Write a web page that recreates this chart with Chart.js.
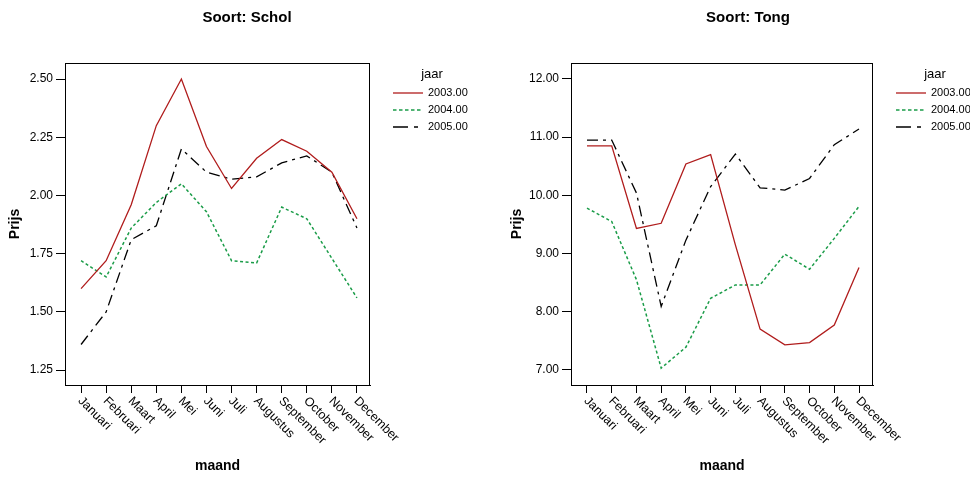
<!DOCTYPE html>
<html><head><meta charset="utf-8">
<script src="https://cdn.jsdelivr.net/npm/chart.js@4"></script>
<style>
html,body{margin:0;padding:0;background:#fff;width:970px;height:479px;overflow:hidden;}
.box{position:absolute;top:0;height:479px;}
</style></head><body>
<div class="box" style="left:0;width:485px"><canvas id="c1"></canvas></div>
<div class="box" style="left:485px;width:485px"><canvas id="c2"></canvas></div>
<script>
const months = ["Januari","Februari","Maart","April","Mei","Juni","Juli","Augustus","September","October","November","December"];
const years = ["2003.00","2004.00","2005.00"];
const titles = ["Soort: Schol","Soort: Tong"];

const schol2003 = [1.60,1.72,1.96,2.30,2.50,2.21,2.03,2.16,2.24,2.19,2.10,1.90];
const schol2004 = [1.72,1.65,1.86,1.97,2.05,1.93,1.72,1.71,1.95,1.90,1.73,1.56];
const schol2005 = [1.36,1.50,1.81,1.87,2.20,2.10,2.07,2.08,2.14,2.17,2.10,1.86];

const tong2003 = [10.85,10.85,9.43,9.52,10.54,10.70,9.15,7.70,7.43,7.47,7.77,8.76];
const tong2004 = [9.78,9.55,8.55,7.03,7.39,8.23,8.46,8.46,8.99,8.73,9.26,9.81];
const tong2005 = [10.95,10.95,10.04,8.09,9.23,10.15,10.71,10.13,10.09,10.29,10.87,11.14];

const scholTicks = [1.25,1.50,1.75,2.00,2.25,2.50];
const tongTicks = [7,8,9,10,11,12];

const colors = ["#b01c1c","#1a9c48","#000000"];
const dashes = [[],[3,2.5],[11,5,3,5]];
const FONT = "'Liberation Sans', Arial, sans-serif";

function decorPlugin(titleX){
  return {
    id:'decor',
    afterDraw(chart){
      const ctx = chart.ctx, a = chart.chartArea, xs = chart.scales.x;
      ctx.save();
      // frame
      ctx.strokeStyle = '#000'; ctx.lineWidth = 1;
      ctx.strokeRect(Math.round(a.left)+0.5, Math.round(a.top)+0.5, Math.round(a.right-a.left)-1, Math.round(a.bottom-a.top));
      // title
      ctx.fillStyle = '#000';
      ctx.font = "bold 15px " + FONT;
      ctx.textAlign = 'center'; ctx.textBaseline = 'middle';
      ctx.fillText(chart.options.plugins.decor.title, titleX, 18);
      // rotated month labels
      ctx.font = "12.5px " + FONT;
      ctx.textAlign = 'left'; ctx.textBaseline = 'middle';
      months.forEach((m,i)=>{
        const px = xs.getPixelForValue(i);
        ctx.save();
        ctx.translate(px - 1, a.bottom + 14);
        ctx.rotate(Math.PI/4);
        ctx.fillText(m, 0, 0);
        ctx.restore();
      });
      // legend
      const lx = a.right + 23;
      ctx.font = "13px " + FONT;
      ctx.textAlign = 'center';
      ctx.fillText('jaar', lx + 39, 74);
      ctx.font = "11px " + FONT;
      ctx.textAlign = 'left';
      years.forEach((y,i)=>{
        const ly = 93 + i*17;
        ctx.strokeStyle = colors[i]; ctx.lineWidth = 1.3;
        ctx.setLineDash(i===2 ? [15,6,4,6] : (i===1 ? [3.5,2.5] : []));
        ctx.beginPath(); ctx.moveTo(lx, ly); ctx.lineTo(lx+30, ly); ctx.stroke();
        ctx.setLineDash([]);
        ctx.fillStyle = '#000';
        ctx.fillText(y, lx + 35, ly);
      });
      ctx.restore();
    }
  };
}

function makeChart(id, title, series, ticks, cfg){
  const datasets = series.map((vals,i)=>({
    label: years[i],
    data: vals.map((v,k)=>({x:k, y:v})),
    borderColor: colors[i],
    borderWidth: i===1 ? 1.5 : 1.3,
    borderDash: dashes[i],
    pointRadius: 0,
    tension: 0,
    fill: false
  }));
  return new Chart(document.getElementById(id), {
    type: 'line',
    data: { datasets },
    options: {
      responsive: true, maintainAspectRatio: false, animation: false,
      layout: { padding: { top: 63, right: cfg.padRight, left: 0, bottom: 0 } },
      plugins: { legend: { display: false }, tooltip: { enabled: false }, title: { display: false }, decor: { title } },
      scales: {
        x: {
          type: 'linear', min: cfg.xmin, max: cfg.xmax,
          afterBuildTicks: s => { s.ticks = months.map((_,k)=>({value:k})); },
          afterFit: s => { s.height = 94; },
          ticks: { display: false },
          grid: { display: true, drawOnChartArea: false, drawTicks: true, tickLength: 8, color: '#000' },
          border: { display: true, color: '#000' },
          title: { display: true, text: 'maand', color: '#000', font: { family: FONT, size: 14, weight: 'bold' }, padding: { top: 4, bottom: 4 } }
        },
        y: {
          min: cfg.ymin, max: cfg.ymax,
          afterBuildTicks: s => { s.ticks = ticks.map(v=>({value:v})); },
          afterFit: s => { s.width = cfg.yWidth; },
          ticks: { color: '#000', font: { family: FONT, size: 12 }, padding: 3, callback: v => Number(v).toFixed(2) },
          grid: { display: true, drawOnChartArea: false, drawTicks: true, tickLength: 9, color: '#000' },
          border: { display: true, color: '#000' },
          title: { display: true, text: 'Prijs', color: '#000', font: { family: FONT, size: 14, weight: 'bold' }, padding: { top: cfg.yTitlePad, bottom: 4 } }
        }
      }
    },
    plugins: [decorPlugin(cfg.titleX)]
  });
}

makeChart('c1', titles[0], [schol2003, schol2004, schol2005], scholTicks,
  { padRight: 115, yWidth: 65, xmin: -0.64, xmax: 11.52, ymin: 1.186, ymax: 2.569, yTitlePad: 6.5, titleX: 247 });
makeChart('c2', titles[1], [tong2003, tong2004, tong2005], tongTicks,
  { padRight: 97, yWidth: 86, xmin: -0.647, xmax: 11.566, ymin: 6.74, ymax: 12.275, yTitlePad: 23.5, titleX: 263 });
</script>
</body></html>
